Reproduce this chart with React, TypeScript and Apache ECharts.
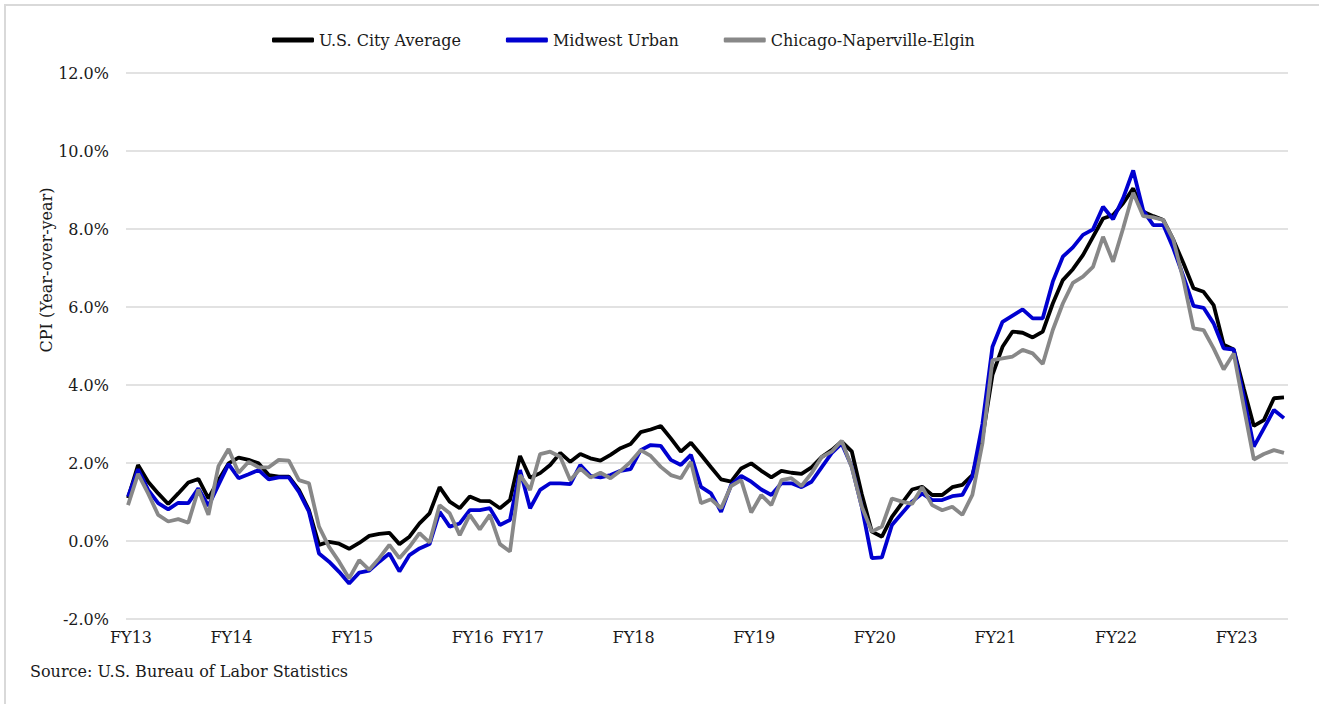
import React, { useEffect, useRef } from "react";
import * as echarts from "echarts";

// Monthly observations (index 0 .. 115), CPI year-over-year change in %
const usCityAverage = [
  1.10, 1.95, 1.52, 1.22, 0.95, 1.22, 1.50, 1.59, 1.09, 1.56,
  1.99, 2.14, 2.08, 1.99, 1.69, 1.65, 1.65, 1.31, 0.79, -0.10,
  -0.02, -0.07, -0.20, -0.05, 0.13, 0.18, 0.21, -0.08, 0.11, 0.45,
  0.71, 1.38, 1.01, 0.84, 1.14, 1.03, 1.02, 0.84, 1.05, 2.18,
  1.62, 1.74, 1.95, 2.26, 2.03, 2.23, 2.12, 2.06, 2.21, 2.38,
  2.49, 2.79, 2.86, 2.95, 2.63, 2.29, 2.52, 2.21, 1.89, 1.58,
  1.52, 1.86, 1.99, 1.80, 1.63, 1.80, 1.75, 1.72, 1.89, 2.15,
  2.33, 2.55, 2.30, 1.20, 0.24, 0.11, 0.62, 0.97, 1.32, 1.39,
  1.18, 1.18, 1.38, 1.44, 1.69, 2.65, 4.26, 4.98, 5.37, 5.34,
  5.22, 5.37, 6.09, 6.69, 6.97, 7.33, 7.80, 8.27, 8.36, 8.66,
  9.04, 8.44, 8.33, 8.23, 7.72, 7.12, 6.48, 6.39, 6.05, 5.03,
  4.91, 3.91, 2.95, 3.10, 3.66, 3.68,
];

const midwestUrban = [
  1.14, 1.84, 1.31, 0.97, 0.81, 0.98, 0.97, 1.35, 0.90, 1.44,
  1.97, 1.61, 1.71, 1.82, 1.58, 1.63, 1.63, 1.26, 0.75, -0.32,
  -0.53, -0.79, -1.09, -0.81, -0.76, -0.53, -0.32, -0.78, -0.36, -0.19,
  -0.08, 0.75, 0.37, 0.45, 0.79, 0.79, 0.84, 0.41, 0.54, 1.82,
  0.84, 1.31, 1.48, 1.48, 1.46, 1.95, 1.67, 1.63, 1.69, 1.80,
  1.84, 2.33, 2.46, 2.44, 2.08, 1.95, 2.21, 1.39, 1.22, 0.75,
  1.44, 1.67, 1.52, 1.32, 1.18, 1.48, 1.48, 1.38, 1.52, 1.89,
  2.25, 2.50, 1.91, 0.88, -0.44, -0.42, 0.41, 0.71, 1.01, 1.22,
  1.05, 1.05, 1.15, 1.18, 1.65, 3.00, 4.98, 5.62, 5.78, 5.94,
  5.71, 5.71, 6.65, 7.29, 7.53, 7.85, 7.99, 8.57, 8.25, 8.79,
  9.50, 8.47, 8.10, 8.10, 7.50, 6.78, 6.03, 5.98, 5.58, 4.94,
  4.91, 3.70, 2.42, 2.89, 3.36, 3.15,
];

const chicagoNapervilleElgin = [
  0.92, 1.72, 1.22, 0.67, 0.50, 0.56, 0.47, 1.32, 0.67, 1.92,
  2.36, 1.75, 2.03, 1.89, 1.89, 2.08, 2.06, 1.56, 1.48, 0.37,
  -0.15, -0.53, -0.96, -0.49, -0.74, -0.44, -0.10, -0.44, -0.15, 0.20,
  -0.04, 0.92, 0.71, 0.15, 0.67, 0.30, 0.67, -0.08, -0.27, 1.69,
  1.31, 2.23, 2.29, 2.16, 1.56, 1.86, 1.63, 1.75, 1.61, 1.80,
  2.03, 2.33, 2.18, 1.90, 1.69, 1.61, 2.03, 0.97, 1.07, 0.84,
  1.41, 1.56, 0.73, 1.18, 0.92, 1.56, 1.61, 1.41, 1.74, 2.15,
  2.29, 2.57, 1.89, 0.88, 0.24, 0.37, 1.09, 1.01, 0.95, 1.38,
  0.92, 0.79, 0.88, 0.67, 1.18, 2.50, 4.64, 4.68, 4.73, 4.90,
  4.81, 4.54, 5.41, 6.09, 6.62, 6.78, 7.03, 7.80, 7.16, 8.02,
  8.93, 8.33, 8.30, 8.23, 7.72, 6.69, 5.45, 5.41, 4.94, 4.40,
  4.81, 3.44, 2.09, 2.23, 2.33, 2.26,
];

const fyLabels = ["FY13", "FY14", "FY15", "FY16", "FY17", "FY18", "FY19", "FY20", "FY21", "FY22", "FY23"];
const fyLabelIndex = [0, 10, 22, 34, 39, 50, 62, 74, 86, 98, 110];

const seriesNames = ["U.S. City Average", "Midwest Urban", "Chicago-Naperville-Elgin"];
const seriesColors = ["#000000", "#0000D0", "#888888"];

const FONT = "DejaVu Serif";
const TEXT = "#1a1a1a";
const FS = 16;

export default function App() {
  const ref = useRef<HTMLDivElement>(null);

  useEffect(() => {
    if (!ref.current) return;
    const chart = echarts.init(ref.current, null, { renderer: "svg" });
    const labelMap: Record<number, string> = {};
    fyLabelIndex.forEach((idx, k) => {
      labelMap[idx] = fyLabels[k];
    });
    const allData = [usCityAverage, midwestUrban, chicagoNapervilleElgin];

    chart.setOption({
      animation: false,
      backgroundColor: "#ffffff",
      textStyle: { fontFamily: FONT },
      legend: {
        left: 267,
        top: 27,
        itemGap: 45,
        itemWidth: 42,
        itemHeight: 5,
        icon: "roundRect",
        textStyle: { fontFamily: FONT, fontSize: FS, color: TEXT },
        data: seriesNames,
      },
      grid: { left: 126, right: 31, top: 73, bottom: 85 },
      xAxis: {
        type: "value",
        min: -0.2,
        max: 115.4,
        splitLine: { show: false },
        axisLine: { show: false },
        axisTick: { show: false },
        axisLabel: {
          customValues: fyLabelIndex,
          formatter: (v: number) => labelMap[Math.round(v)] ?? "",
          fontFamily: FONT,
          fontSize: FS,
          color: TEXT,
          margin: 10,
          padding: [0, 0, 0, 6],
        },
      },
      yAxis: {
        type: "value",
        min: -2,
        max: 12,
        interval: 2,
        axisLine: { show: false },
        axisTick: { show: false },
        splitLine: { lineStyle: { color: "#d9d9d9", width: 1.5 } },
        axisLabel: {
          formatter: (v: number) => v.toFixed(1) + "%",
          fontFamily: FONT,
          fontSize: FS,
          color: TEXT,
          margin: 17,
        },
      },
      series: allData.map((arr, k) => ({
        name: seriesNames[k],
        type: "line",
        data: arr.map((v, i) => [i, v]),
        showSymbol: false,
        symbol: "none",
        color: seriesColors[k],
        lineStyle: { color: seriesColors[k], width: 3.8 },
        z: 2 + k,
      })),
      graphic: [
        {
          type: "rect",
          shape: { x: 5, y: 5, width: 1400, height: 800 },
          style: { fill: "none", stroke: "#d9d9d9", lineWidth: 2 },
          silent: true,
        },
        {
          type: "text",
          x: 46,
          y: 270,
          rotation: Math.PI / 2,
          style: {
            text: "CPI (Year-over-year)",
            fontFamily: FONT,
            fontSize: FS,
            fill: TEXT,
            textAlign: "center",
            textVerticalAlign: "middle",
          },
        },
        {
          type: "text",
          x: 30,
          y: 671,
          style: {
            text: "Source: U.S. Bureau of Labor Statistics",
            fontFamily: FONT,
            fontSize: FS,
            fill: TEXT,
            textAlign: "left",
            textVerticalAlign: "middle",
          },
        },
      ],
    });

    return () => {
      chart.dispose();
    };
  }, []);

  return (
    <div
      ref={ref}
      style={{ position: "absolute", left: 0, top: 0, width: 1319, height: 704 }}
    />
  );
}
